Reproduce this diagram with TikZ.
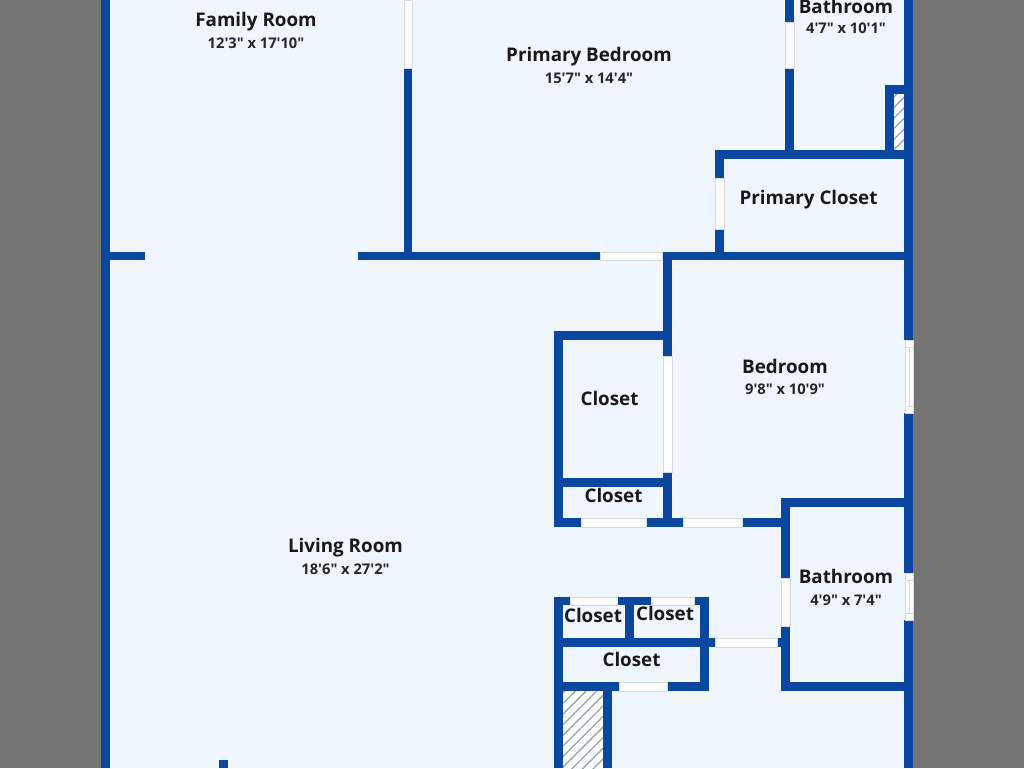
\documentclass[tikz,border=0pt]{standalone}
\usepackage{fontspec}
\usetikzlibrary{patterns.meta}
\newfontfamily\planfont[BoldFont={Open Sans Bold}]{Open Sans}
\definecolor{wallblue}{HTML}{0B469F}
\definecolor{floorblue}{HTML}{EFF6FE}
\definecolor{pagegray}{HTML}{757575}
\begin{document}
\begin{tikzpicture}[x=1pt,y=-1pt,
        wall/.style={fill=wallblue},
        door/.style={fill=white, draw=black!15, line width=0.6pt},
        shaft/.style={pattern={Lines[angle=45,distance=7.5pt,line width=1.3pt]}, pattern color=black!40!cyan!30!gray!70},
        room/.style={font=\planfont\bfseries\fontsize{18.8}{20}\selectfont, text=black!90, inner sep=0pt},
        size/.style={font=\planfont\bfseries\fontsize{14.7}{16}\selectfont, text=black!85, inner sep=0pt}
    ]
    \useasboundingbox (0,0) rectangle (1024,768);
    \fill[pagegray] (0,0) rectangle (1024,768);
    \fill[floorblue] (105,0) rectangle (909,768);

    % shafts
    \fill[white] (563,691) rectangle (603,768);
    \path[shaft] (563,691) rectangle (603,768);
    \fill[white] (894,94) rectangle (904,150);
    \path[shaft] (894,94) rectangle (904,150);

    % walls
    \foreach \xa/\ya/\xb/\yb in {
        101/0/110/768, 904/0/913/340, 904/413/913/573, 904/620/913/768,
        110/252/145/260, 358/252/600/260, 662/252/904/260,
        404/68/412/252, 785/0/794/22, 785/68/794/150,
        715/150/904/159, 715/159/724/178, 715/229/724/252,
        885/85/904/94, 885/94/894/150,
        663/260/672/356, 663/472/672/518,
        554/331/663/340, 554/340/563/518, 563/478/663/487,
        554/518/581/527, 646/518/683/527, 742/518/781/527,
        781/498/904/507, 781/507/790/578, 781/626/790/691, 790/682/904/691,
        554/597/563/768, 563/597/570/605, 617/597/651/605, 694/597/700/605,
        700/597/709/691, 625/605/634/638, 563/638/715/647, 777/638/781/647,
        563/682/619/691, 667/682/700/691, 603/691/612/768,
        219/760/228/768}
        \fill[wall] (\xa,\ya) rectangle (\xb,\yb);

    % doors
    \foreach \xa/\ya/\xb/\yb in {
        404/0/412/68, 785/22/794/68, 715/178/724/229,
        600/252/662/260, 663/356/672/472,
        581/518/646/527, 683/518/742/527,
        781/578/790/626, 570/597/617/605, 651/597/694/605,
        715/638/777/647, 619/682/667/691}
        \draw[door] (\xa,\ya) rectangle (\xb,\yb);

    % windows
    \foreach \ya/\yb in {340/413, 573/620} {
        \draw[door] (905,\ya) rectangle (913,\yb);
        \draw[door] (905,\ya+7) rectangle (913,\yb-7);
        \draw[black!15, line width=0.6pt] (909,\ya+7) -- (909,\yb-7);
    }

    % labels
    \node[room] (familyroom) at (256,21.5) {Family Room};
    \node[size] (familysize) at (256,43) {12'3" x 17'10"};
    \node[room] (primarybed) at (589,56.5) {Primary Bedroom};
    \node[size] (primarysize) at (589,78) {15'7" x 14'4"};
    \node[room] (upperbath) at (846,6) {Bathroom};
    \node[size] (upperbathsize) at (846,28) {4'7" x 10'1"};
    \node[room] (primarycloset) at (808.5,199.5) {Primary Closet};
    \node[room] (bedroom) at (785,366) {Bedroom};
    \node[size] (bedroomsize) at (785,389) {9'8" x 10'9"};
    \node[room] (closeta) at (609.5,398) {Closet};
    \node[room] (closetb) at (613.5,495) {Closet};
    \node[room] (livingroom) at (345.5,547.5) {Living Room};
    \node[size] (livingsize) at (345.5,569) {18'6" x 27'2"};
    \node[room] (lowerbath) at (846,576) {Bathroom};
    \node[size] (lowerbathsize) at (846,600) {4'9" x 7'4"};
    \node[room] (closetc) at (593,615) {Closet};
    \node[room] (closetd) at (665,613) {Closet};
    \node[room] (closete) at (631.5,659) {Closet};
\end{tikzpicture}
\end{document}
